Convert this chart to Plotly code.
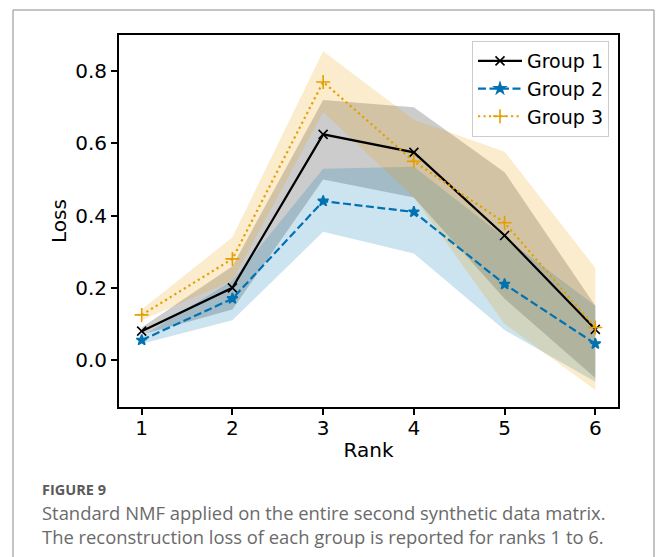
import plotly.graph_objects as go

# Reconstruction loss per rank for each group (mean with a shaded spread)
ranks = [1, 2, 3, 4, 5, 6]

group1_mean = [0.080, 0.200, 0.625, 0.575, 0.345, 0.085]
group1_low = [0.070, 0.140, 0.500, 0.450, 0.170, -0.050]
group1_high = [0.090, 0.260, 0.720, 0.700, 0.520, 0.150]

group2_mean = [0.055, 0.170, 0.440, 0.410, 0.210, 0.045]
group2_low = [0.045, 0.110, 0.355, 0.295, 0.083, -0.060]
group2_high = [0.065, 0.220, 0.530, 0.535, 0.340, 0.150]

group3_mean = [0.125, 0.280, 0.770, 0.550, 0.380, 0.090]
group3_low = [0.110, 0.220, 0.687, 0.450, 0.100, -0.083]
group3_high = [0.140, 0.340, 0.855, 0.665, 0.577, 0.255]

names = ["Group 1", "Group 2", "Group 3"]
x_ticks = [1, 2, 3, 4, 5, 6]
y_ticks = [0.0, 0.2, 0.4, 0.6, 0.8]

caption_head = "FIGURE 9"
caption_lines = [
    "Standard NMF applied on the entire second synthetic data matrix.",
    "The reconstruction loss of each group is reported for ranks 1 to 6.",
]

W, H = 656, 557
L, R, T, B = 119, 618, 35, 407  # plot area in pixels

colors = ["#000000", "#0072B2", "#E69F00"]
fills = ["rgba(0,0,0,0.2)", "rgba(0,114,178,0.2)", "rgba(230,159,0,0.2)"]
dashes = ["solid", "8px,3.5px", "2.2px,3.3px"]
symbols = ["x-thin-open", "star", "cross-thin-open"]
msizes = [9, 8, 10]

means = [group1_mean, group2_mean, group3_mean]
lows = [group1_low, group2_low, group3_low]
highs = [group1_high, group2_high, group3_high]

fig = go.Figure()

for i in range(3):
    fig.add_trace(go.Scatter(
        x=ranks + ranks[::-1],
        y=highs[i] + lows[i][::-1],
        fill="toself", fillcolor=fills[i],
        line=dict(width=0), mode="lines",
        hoverinfo="skip", showlegend=False,
    ))

for i in range(3):
    fig.add_trace(go.Scatter(
        x=ranks, y=means[i], name=names[i],
        mode="lines+markers",
        line=dict(color=colors[i], width=2.2, dash=dashes[i]),
        marker=dict(symbol=symbols[i], size=msizes[i], color=colors[i],
                    line=dict(color=colors[i], width=1.6)),
    ))


def px_x(p):
    return (p - L) / (R - L)


def px_y(p):
    return (B - p) / (B - T)


font = "DejaVu Sans"
axis_common = dict(
    showgrid=False, zeroline=False, showline=True, mirror=True,
    linecolor="black", linewidth=2, ticks="outside", ticklen=6,
    tickwidth=1.6, tickcolor="black",
    tickfont=dict(family=font, size=20, color="black"),
)

fig.update_layout(
    width=W, height=H,
    margin=dict(l=L, r=W - R, t=T, b=H - B),
    paper_bgcolor="white", plot_bgcolor="white",
    xaxis=dict(range=[0.75, 6.25], tickvals=x_ticks, ticklabelstandoff=-4,
               title=dict(text="Rank", font=dict(family=font, size=20, color="black"),
                          standoff=4),
               **axis_common),
    yaxis=dict(range=[-0.13, 0.9], tickvals=y_ticks, tickformat=".1f",
               title=dict(text="Loss", font=dict(family=font, size=20, color="black"),
                          standoff=3),
               **axis_common),
    legend=dict(x=px_x(609), y=px_y(41), xanchor="right", yanchor="top",
                bgcolor="rgba(255,255,255,0.8)", bordercolor="#cccccc", borderwidth=1,
                font=dict(family=font, size=19, color="black"),
                itemwidth=44),
    showlegend=True,
)

# Outer frame around the figure and its caption
fig.add_shape(type="rect", xref="paper", yref="paper",
              x0=px_x(13), x1=px_x(654), y0=px_y(570), y1=px_y(10),
              line=dict(color="#8a8a8a", width=1), fillcolor="rgba(0,0,0,0)",
              layer="below")

fig.add_annotation(text="<b>" + caption_head + "</b>", xref="paper", yref="paper",
                   x=px_x(40), y=px_y(489), xanchor="left", yanchor="middle",
                   showarrow=False,
                   font=dict(family="Open Sans", size=14.5, color="#5a5a5a"))
for k, line in enumerate(caption_lines):
    fig.add_annotation(text=line, xref="paper", yref="paper",
                       x=px_x(40), y=px_y(512 + 24 * k), xanchor="left", yanchor="middle",
                       showarrow=False,
                       font=dict(family="Open Sans", size=18.4, color="#6a6a6a"))

fig.write_html("out.html")
